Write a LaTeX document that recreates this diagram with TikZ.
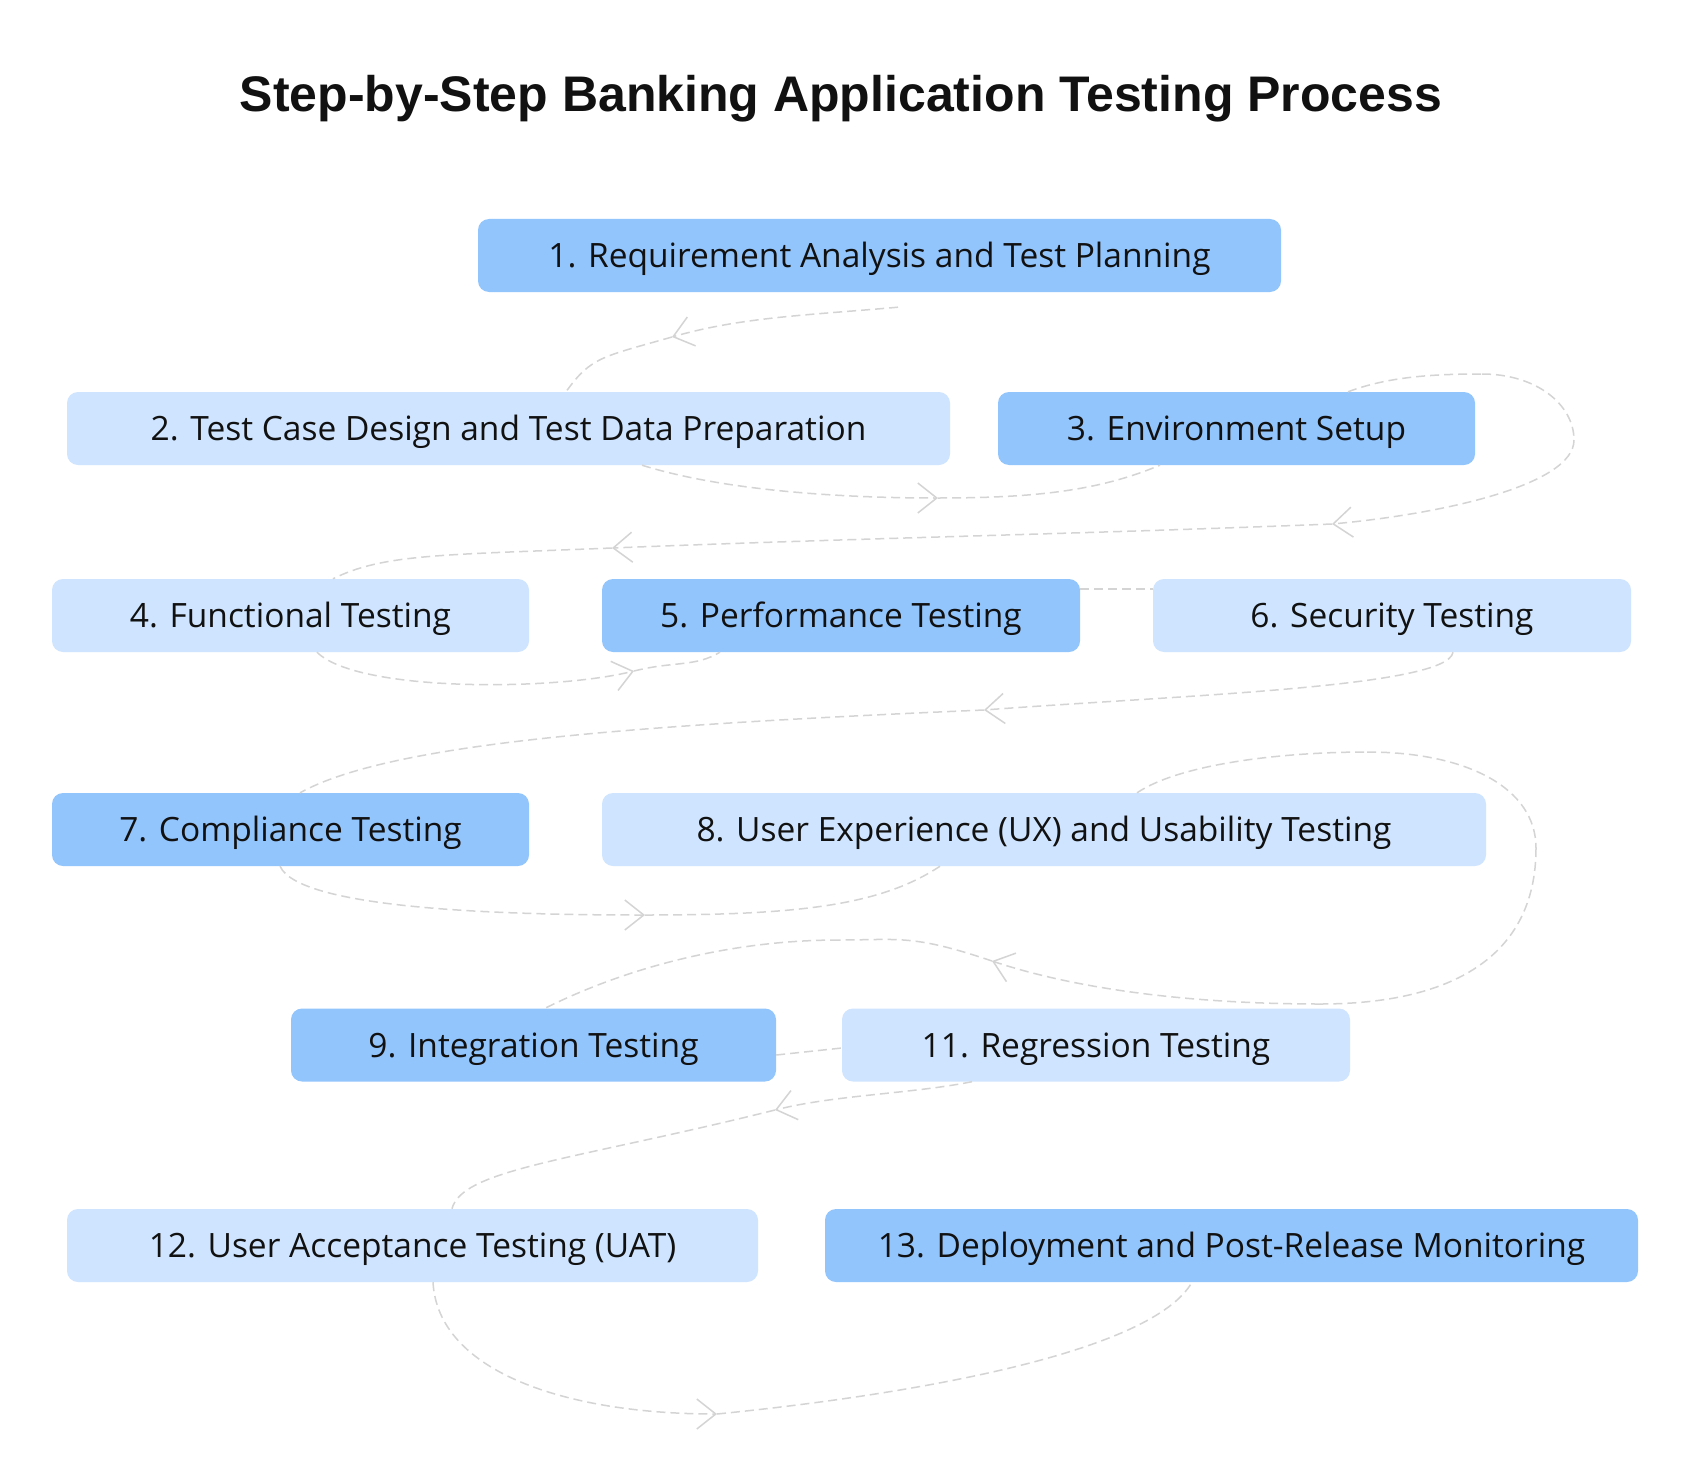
\documentclass[tikz,border=0pt]{standalone}
\usepackage{fontspec}
\setmainfont{Open Sans}
\newfontfamily\titlefont{Liberation Sans}
\usetikzlibrary{arrows.meta}
\definecolor{boxdark}{HTML}{93C5FD}
\definecolor{boxlight}{HTML}{CFE4FE}
\definecolor{flowgray}{HTML}{D4D4D4}
\definecolor{inkblack}{HTML}{111111}

\begin{document}
\begin{tikzpicture}[x=1pt,y=-1pt,
  box/.style={rounded corners=11pt,minimum height=73pt,inner sep=0pt,text height=30pt,text depth=6pt,text=inkblack,font=\fontsize{33.5}{40}\selectfont},
  dark/.style={box,fill=boxdark},
  light/.style={box,fill=boxlight},
  flow/.style={draw=flowgray,line width=1.5pt,dash pattern=on 9pt off 5pt},
  tip/.style={-{Straight Barb[length=19pt,width=30pt,line width=1.5pt]}}]
\fill[white] (0,0) rectangle (1684,1482);
\node[font=\titlefont\bfseries\fontsize{50}{60}\selectfont,text=inkblack] (title) at (841,99) {Step-by-Step Banking Application Testing Process};

% steps
\node[dark,minimum width=803pt] (b1) at (879.5,255.5) {1. Requirement Analysis and Test Planning};
\node[light,minimum width=883pt] (b2) at (508.5,428.5) {2. Test Case Design and Test Data Preparation};
\node[dark,minimum width=477pt] (b3) at (1236.5,428.5) {3. Environment Setup};
\node[light,minimum width=477pt] (b4) at (290.5,615.5) {4. Functional Testing};
\node[dark,minimum width=478pt] (b5) at (841,615.5) {5. Performance Testing};
\node[light,minimum width=478pt] (b6) at (1392,615.5) {6. Security Testing};
\node[dark,minimum width=477pt] (b7) at (290.5,829.5) {7. Compliance Testing};
\node[light,minimum width=884pt] (b8) at (1044,829.5) {8. User Experience (UX) and Usability Testing};
\node[dark,minimum width=485pt] (b9) at (533.5,1045) {9. Integration Testing};
\node[light,minimum width=508pt] (b11) at (1096,1045) {11. Regression Testing};
\node[light,minimum width=691pt] (b12) at (412.5,1245.5) {12. User Acceptance Testing (UAT)};
\node[dark,minimum width=813pt] (b13) at (1231.5,1245.5) {13. Deployment and Post-Release Monitoring};

% bends of the flow
\coordinate (a1) at (672,337);
\coordinate (a2) at (938,498);
\coordinate (c1) at (1482,374);
\coordinate (c2) at (1574,440);
\coordinate (a3) at (1332,524);
\coordinate (a4) at (612,548);
\coordinate (a5) at (634,671);
\coordinate (a6) at (984,710);
\coordinate (a7) at (645,915);
\coordinate (h1) at (1367,752);
\coordinate (h2) at (1536,848);
\coordinate (h3) at (1320,1004);
\coordinate (a8) at (992,961);
\coordinate (h4) at (839,940);
\coordinate (a9) at (775,1110);
\coordinate (a10) at (717,1414);

\draw[flow,tip] ([xshift=18.5pt,yshift=-15pt]b1.south) .. controls +(-90,8) and +(70,-20) .. (a1);
\draw[flow] (a1) .. controls +(-70,20) and +(25,-35) .. ([xshift=57.5pt]b2.north);

\draw[flow,tip] ([xshift=133.5pt]b2.south) .. controls +(80,25) and +(-100,0) .. (a2);
\draw[flow] (a2) .. controls +(100,0) and +(-60,25) .. ([xshift=-76.5pt]b3.south);

\draw[flow] ([xshift=111.5pt]b3.north) .. controls +(40,-15) and +(-50,0) .. (c1);
\draw[flow] (c1) .. controls +(55,0) and +(0,-35) .. (c2);
\draw[flow,tip] (c2) .. controls +(0,45) and +(110,-10) .. (a3);
\draw[flow,tip] (a3) .. controls +(-250,10) and +(250,-10) .. (a4);
\draw[flow] (a4) .. controls +(-170,7) and +(50,-25) .. ([xshift=42.5pt]b4.north);

\draw[flow,tip] ([xshift=26.5pt]b4.south) .. controls +(40,40) and +(-80,20) .. (a5);
\draw[flow] (a5) .. controls +(40,-10) and +(-25,15) .. ([xshift=-121pt]b5.south);

\draw[flow] ([yshift=-10pt]b5.north east) -- ([yshift=-10pt]b6.north west);

\draw[flow,tip] ([xshift=61pt]b6.south) .. controls +(-5,35) and +(200,-15) .. (a6);
\draw[flow] (a6) .. controls +(-350,15) and +(90,-50) .. ([xshift=9.5pt]b7.north);

\draw[flow,tip] ([xshift=-10.5pt]b7.south) .. controls +(20,45) and +(-120,0) .. (a7);
\draw[flow] (a7) .. controls +(150,0) and +(-60,40) .. ([xshift=-104pt]b8.south);

\draw[flow] ([xshift=93pt]b8.north) .. controls +(45,-30) and +(-80,0) .. (h1);
\draw[flow] (h1) .. controls +(100,0) and +(0,-60) .. (h2);
\draw[flow] (h2) .. controls +(0,110) and +(130,0) .. (h3);
\draw[flow,tip] (h3) .. controls +(-120,0) and +(90,30) .. (a8);
\draw[flow] (a8) .. controls +(-80,-27) and +(60,0) .. (h4);
\draw[flow] (h4) .. controls +(-110,0) and +(80,-40) .. ([xshift=11.5pt]b9.north);

\draw[flow] ([yshift=-10pt]b9.east) -- ([yshift=-3pt]b11.west);

\draw[flow,tip] ([xshift=-124pt]b11.south) .. controls +(-60,12) and +(60,-15) .. (a9);
\draw[flow] (a9) .. controls +(-200,50) and +(10,-40) .. ([xshift=39.5pt]b12.north);

\draw[flow,tip] ([xshift=20.5pt]b12.south) .. controls +(5,90) and +(-150,0) .. (a10);
\draw[flow] (a10) .. controls +(200,-20) and +(-40,70) .. ([xshift=-39.5pt]b13.south);
\end{tikzpicture}
\end{document}
